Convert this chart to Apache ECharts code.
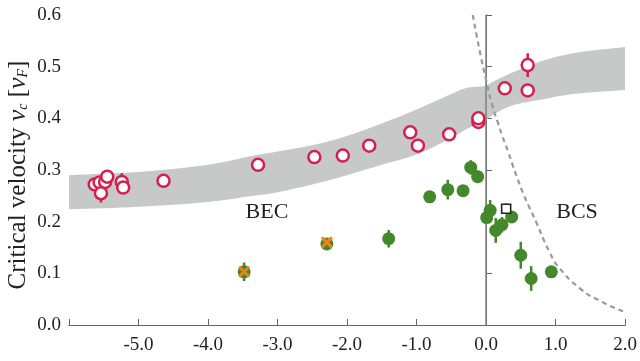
<!DOCTYPE html>
<html><head><meta charset="utf-8">
<script src="https://cdn.jsdelivr.net/npm/echarts@6/dist/echarts.min.js"></script>
<style>html,body{margin:0;padding:0;background:#fff}#c{width:640px;height:361px}</style>
</head><body><div id="c"></div>
<script>
// ---- data ----
var xTicks = [-5, -4, -3, -2, -1, 0, 1, 2];
var yTicks = [0, 0.1, 0.2, 0.3, 0.4, 0.5, 0.6];
// gray theory band
var bandX     = [-6, -5, -4, -3.3, -3, -2.5, -2, -1.5, -1, -0.5, -0.27, 0, 0.06, 0.3, 0.53, 0.78, 1.25, 2.0];
var bandLower = [0.224, 0.229, 0.238, 0.251, 0.257, 0.272, 0.290, 0.310, 0.330, 0.362, 0.380, 0.397, 0.403, 0.421, 0.430, 0.436, 0.447, 0.455];
var bandUpper = [0.290, 0.296, 0.310, 0.329, 0.336, 0.348, 0.366, 0.390, 0.417, 0.447, 0.459, 0.463, 0.468, 0.484, 0.497, 0.510, 0.526, 0.538];
// BCS dashed curve
var bcsX = [-0.19, -0.09, 0.0, 0.09, 0.17, 0.24, 0.32, 0.39, 0.46, 0.53, 0.63, 0.73, 0.82, 0.92, 1.02, 1.35, 1.68, 2.0];
var bcsY = [0.60, 0.53, 0.475, 0.425, 0.392, 0.364, 0.335, 0.307, 0.281, 0.256, 0.226, 0.197, 0.168, 0.140, 0.116, 0.071, 0.044, 0.025];
// unitarity line
var unitaryX = [0, 0];
var unitaryY = [0, 0.6];
// red open circles: x, y, error
var redX   = [-5.63, -5.56, -5.54, -5.48, -5.45, -5.24, -5.22, -4.64, -3.28, -2.47, -2.06, -1.68, -1.09, -0.98, -0.53, -0.11, -0.11, 0.27, 0.60, 0.60];
var redY   = [0.272, 0.276, 0.255, 0.277, 0.287, 0.277, 0.266, 0.279, 0.310, 0.325, 0.328, 0.347, 0.373, 0.347, 0.369, 0.393, 0.400, 0.458, 0.503, 0.454];
var redErr = [0, 0, 0.018, 0, 0.006, 0.017, 0, 0, 0, 0.008, 0, 0, 0, 0, 0, 0, 0, 0, 0.023, 0];
// green filled circles
var greenX   = [-3.48, -2.29, -1.40, -0.81, -0.55, -0.33, -0.22, -0.12, 0.06, 0.01, 0.14, 0.23, 0.37, 0.50, 0.65, 0.94];
var greenY   = [0.103, 0.157, 0.167, 0.248, 0.262, 0.260, 0.305, 0.287, 0.222, 0.208, 0.183, 0.194, 0.209, 0.135, 0.090, 0.103];
var greenErr = [0.018, 0, 0.017, 0, 0.019, 0, 0.014, 0.012, 0.02, 0, 0.024, 0.015, 0, 0.026, 0.024, 0];
// orange crosses
var crossX = [-3.48, -2.29];
var crossY = [0.103, 0.160];
// open square
var squareX = [0.29];
var squareY = [0.225];
var squareErr = [0.01];

// ---- build ----
function pairs(xs, ys) { return xs.map(function (x, i) { return [x, ys[i]]; }); }
function errData(xs, ys, es) {
  var out = [];
  xs.forEach(function (x, i) { if (es[i] > 0) out.push([x, ys[i], es[i]]); });
  return out;
}
var SERIF = '"Liberation Serif", "DejaVu Serif", serif';
var AX = '#666';
var chart = echarts.init(document.getElementById('c'), null, { renderer: 'canvas' });

function errSeries(data, color, z) {
  return {
    type: 'custom', z: z, silent: true, data: data,
    encode: { x: 0, y: 1 },
    renderItem: function (params, api) {
      var x = api.value(0), y = api.value(1), e = api.value(2);
      var p1 = api.coord([x, y - e]), p2 = api.coord([x, y + e]);
      return { type: 'line', shape: { x1: p1[0], y1: p1[1], x2: p2[0], y2: p2[1] },
               style: { stroke: color, lineWidth: 2.5 } };
    }
  };
}

var option = {
  animation: false,
  grid: { left: 69, right: 15, top: 15, bottom: 36 },
  xAxis: [{
    type: 'value', min: -6, max: 2, interval: 1,
    axisLine: { lineStyle: { color: AX, width: 1 } },
    axisTick: { inside: true, length: 6, lineStyle: { color: AX } },
    splitLine: { show: false },
    axisLabel: { color: '#222', fontFamily: SERIF, fontSize: 19, margin: 11,
      formatter: function (v) { return xTicks.indexOf(v) < 0 ? '' : v.toFixed(1); } }
  }, {
    type: 'value', position: 'top', min: -6, max: 2,
    axisLine: { show: true, lineStyle: { color: AX, width: 1 } },
    axisTick: { show: false }, axisLabel: { show: false }, splitLine: { show: false }
  }],
  yAxis: [{
    type: 'value', min: 0, max: 0.6, interval: 0.1,
    axisLine: { show: true, lineStyle: { color: AX, width: 1 } },
    axisTick: { show: true, inside: true, length: 6, lineStyle: { color: AX } },
    splitLine: { show: false },
    axisLabel: { color: '#222', fontFamily: SERIF, fontSize: 19, margin: 8,
      formatter: function (v) { return v.toFixed(1); } }
  }, {
    type: 'value', position: 'right', min: 0, max: 0.6,
    axisLine: { show: true, lineStyle: { color: AX, width: 1 } },
    axisTick: { show: false }, axisLabel: { show: false }, splitLine: { show: false }
  }],
  series: [
    { // band polygon through the axis scales (end points doubled to keep square ends)
      type: 'custom', z: 1, silent: true, data: [[bandX[0], bandLower[0]]],
      encode: { x: 0, y: 1 },
      renderItem: function (params, api) {
        var n = bandX.length, pts = [];
        pts.push(api.coord([bandX[0], bandUpper[0]]));
        for (var i = 0; i < n; i++) pts.push(api.coord([bandX[i], bandUpper[i]]));
        pts.push(api.coord([bandX[n - 1], bandUpper[n - 1]]));
        pts.push(api.coord([bandX[n - 1], bandLower[n - 1]]));
        for (var j = n - 1; j >= 0; j--) pts.push(api.coord([bandX[j], bandLower[j]]));
        pts.push(api.coord([bandX[0], bandLower[0]]));
        return { type: 'polygon', shape: { points: pts, smooth: 0.35 }, style: { fill: '#c6c9c7' } };
      }
    },
    { type: 'line', z: 2, data: pairs(unitaryX, unitaryY), symbol: 'none', silent: true,
      lineStyle: { color: '#808080', width: 1.5 } },
    { type: 'line', z: 2, data: pairs(bcsX, bcsY), symbol: 'none', smooth: 0.5, silent: true,
      lineStyle: { color: '#9a9a9a', width: 2.2, type: [5, 4] } },
    errSeries(errData(redX, redY, redErr), '#d81e50', 3),
    errSeries(errData(greenX, greenY, greenErr), '#43892c', 3),
    errSeries(errData(squareX, squareY, squareErr), '#222', 3),
    { type: 'scatter', z: 4, data: pairs(redX, redY), symbol: 'circle', symbolSize: 12,
      itemStyle: { color: '#fff', borderColor: '#d81e50', borderWidth: 2.5, opacity: 1 } },
    { type: 'scatter', z: 4, data: pairs(greenX, greenY), symbol: 'circle', symbolSize: 13,
      itemStyle: { color: '#43892c', opacity: 1 } },
    { type: 'custom', z: 5, silent: true, data: pairs(crossX, crossY), encode: { x: 0, y: 1 },
      renderItem: function (params, api) {
        var p = api.coord([api.value(0), api.value(1)]), r = 5;
        var st = { stroke: '#f0821e', lineWidth: 3 };
        return { type: 'group', children: [
          { type: 'line', shape: { x1: p[0] - r, y1: p[1] - r, x2: p[0] + r, y2: p[1] + r }, style: st },
          { type: 'line', shape: { x1: p[0] - r, y1: p[1] + r, x2: p[0] + r, y2: p[1] - r }, style: st }
        ] };
      } },
    { type: 'scatter', z: 5, data: pairs(squareX, squareY), symbol: 'rect', symbolSize: 9,
      itemStyle: { color: '#fff', borderColor: '#222', borderWidth: 1.6, opacity: 1 } }
  ],
  graphic: [
    { type: 'text', x: 267, y: 212, style: { text: 'BEC', fontFamily: SERIF, fontSize: 22, fill: '#222', align: 'center', verticalAlign: 'middle' } },
    { type: 'text', x: 577, y: 212, style: { text: 'BCS', fontFamily: SERIF, fontSize: 22, fill: '#222', align: 'center', verticalAlign: 'middle' } },
    { type: 'text', x: 18, y: 175, rotation: Math.PI / 2,
      style: { text: 'Critical velocity {iv|v}{sub|c} [{iv|v}{sub|F}]', fontFamily: SERIF, fontSize: 25, fill: '#222',
        align: 'center', verticalAlign: 'middle',
        rich: {
          iv: { fontFamily: SERIF, fontStyle: 'italic', fontSize: 26, fill: '#222' },
          sub: { fontFamily: SERIF, fontStyle: 'italic', fontSize: 14, fill: '#222', padding: [11, 0, 0, 0] }
        } } }
  ]
};
chart.setOption(option);
</script>
</body></html>
